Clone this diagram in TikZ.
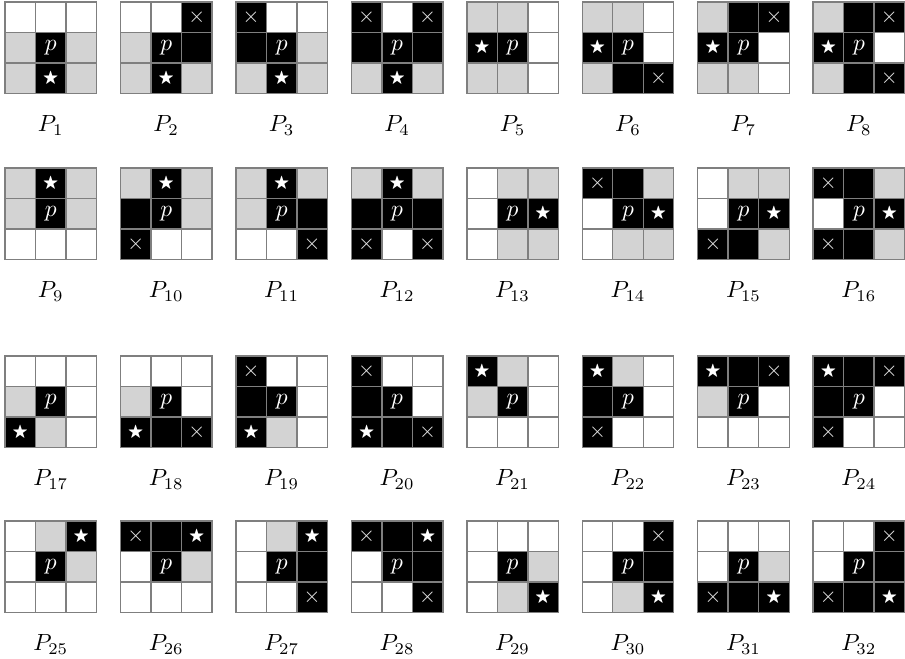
\documentclass[tikz,border=0pt]{standalone}
\usepackage{amsmath,amssymb}
\usepackage{xcolor}
\definecolor{CGrid}{HTML}{7F7F7F}
\definecolor{CShade}{HTML}{D3D3D3}
\definecolor{CMark}{HTML}{E6E6E6}
\usepackage{tikz}
\tikzstyle{sqw}=[rectangle, draw=CGrid, fill=white, line width=0.6pt,
  minimum size=0.4575cm, inner sep=0pt]
\tikzstyle{sqg}=[sqw, fill=CShade]
\tikzstyle{sqb}=[sqw, fill=black]
\tikzstyle{sqp}=[sqb, text=white]
\tikzstyle{sqs}=[sqb, text=white]
\tikzstyle{sqx}=[sqb, text=CMark]
\tikzstyle{patlabel}=[anchor=base, inner sep=0pt]
\newcommand{\cellmarkw}{}
\newcommand{\cellmarkg}{}
\newcommand{\cellmarkb}{}
\newcommand{\cellmarkp}{$p$}
\newcommand{\cellmarks}{\scriptsize$\bigstar$}
\newcommand{\cellmarkx}{\small$\times$}
\newcommand{\cellgrid}[4]{%
  \foreach \kind [count=\k from 0] in {#4} {
    \pgfmathtruncatemacro{\rw}{floor(\k/3)}
    \pgfmathtruncatemacro{\cl}{mod(\k,3)}
    \node[sq\kind] (pat#1-\k) at ({#2+30.5*\cl+15.25},{#3+30.5*\rw+15.25})
      {\csname cellmark\kind\endcsname};
  }
  \node[patlabel] (pat#1-lbl) at ({#2+45.75},{#3+130}) {$P_{#1}$};
}

\begin{document}
\begin{tikzpicture}[x=0.015cm, y=-0.015cm]
\useasboundingbox (0,0) rectangle (905,659);

\cellgrid{1}{5}{2}{w,w,w,g,p,g,g,s,g}
\cellgrid{2}{120.45}{2}{w,w,x,g,p,b,g,s,g}
\cellgrid{3}{235.9}{2}{x,w,w,b,p,g,g,s,g}
\cellgrid{4}{351.35}{2}{x,w,x,b,p,b,g,s,g}
\cellgrid{5}{466.8}{2}{g,g,w,s,p,w,g,g,w}
\cellgrid{6}{582.25}{2}{g,g,w,s,p,w,g,b,x}
\cellgrid{7}{697.7}{2}{g,b,x,s,p,w,g,g,w}
\cellgrid{8}{813.15}{2}{g,b,x,s,p,w,g,b,x}

\cellgrid{9}{5}{168}{g,s,g,g,p,g,w,w,w}
\cellgrid{10}{120.45}{168}{g,s,g,b,p,g,x,w,w}
\cellgrid{11}{235.9}{168}{g,s,g,g,p,b,w,w,x}
\cellgrid{12}{351.35}{168}{g,s,g,b,p,b,x,w,x}
\cellgrid{13}{466.8}{168}{w,g,g,w,p,s,w,g,g}
\cellgrid{14}{582.25}{168}{x,b,g,w,p,s,w,g,g}
\cellgrid{15}{697.7}{168}{w,g,g,w,p,s,x,b,g}
\cellgrid{16}{813.15}{168}{x,b,g,w,p,s,x,b,g}

\cellgrid{17}{5}{356}{w,w,w,g,p,w,s,g,w}
\cellgrid{18}{120.45}{356}{w,w,w,g,p,w,s,b,x}
\cellgrid{19}{235.9}{356}{x,w,w,b,p,w,s,g,w}
\cellgrid{20}{351.35}{356}{x,w,w,b,p,w,s,b,x}
\cellgrid{21}{466.8}{356}{s,g,w,g,p,w,w,w,w}
\cellgrid{22}{582.25}{356}{s,g,w,b,p,w,x,w,w}
\cellgrid{23}{697.7}{356}{s,b,x,g,p,w,w,w,w}
\cellgrid{24}{813.15}{356}{s,b,x,b,p,w,x,w,w}

\cellgrid{25}{5}{521}{w,g,s,w,p,g,w,w,w}
\cellgrid{26}{120.45}{521}{x,b,s,w,p,g,w,w,w}
\cellgrid{27}{235.9}{521}{w,g,s,w,p,b,w,w,x}
\cellgrid{28}{351.35}{521}{x,b,s,w,p,b,w,w,x}
\cellgrid{29}{466.8}{521}{w,w,w,w,p,g,w,g,s}
\cellgrid{30}{582.25}{521}{w,w,x,w,p,b,w,g,s}
\cellgrid{31}{697.7}{521}{w,w,w,w,p,g,x,b,s}
\cellgrid{32}{813.15}{521}{w,w,x,w,p,b,x,b,s}
\end{tikzpicture}
\end{document}
